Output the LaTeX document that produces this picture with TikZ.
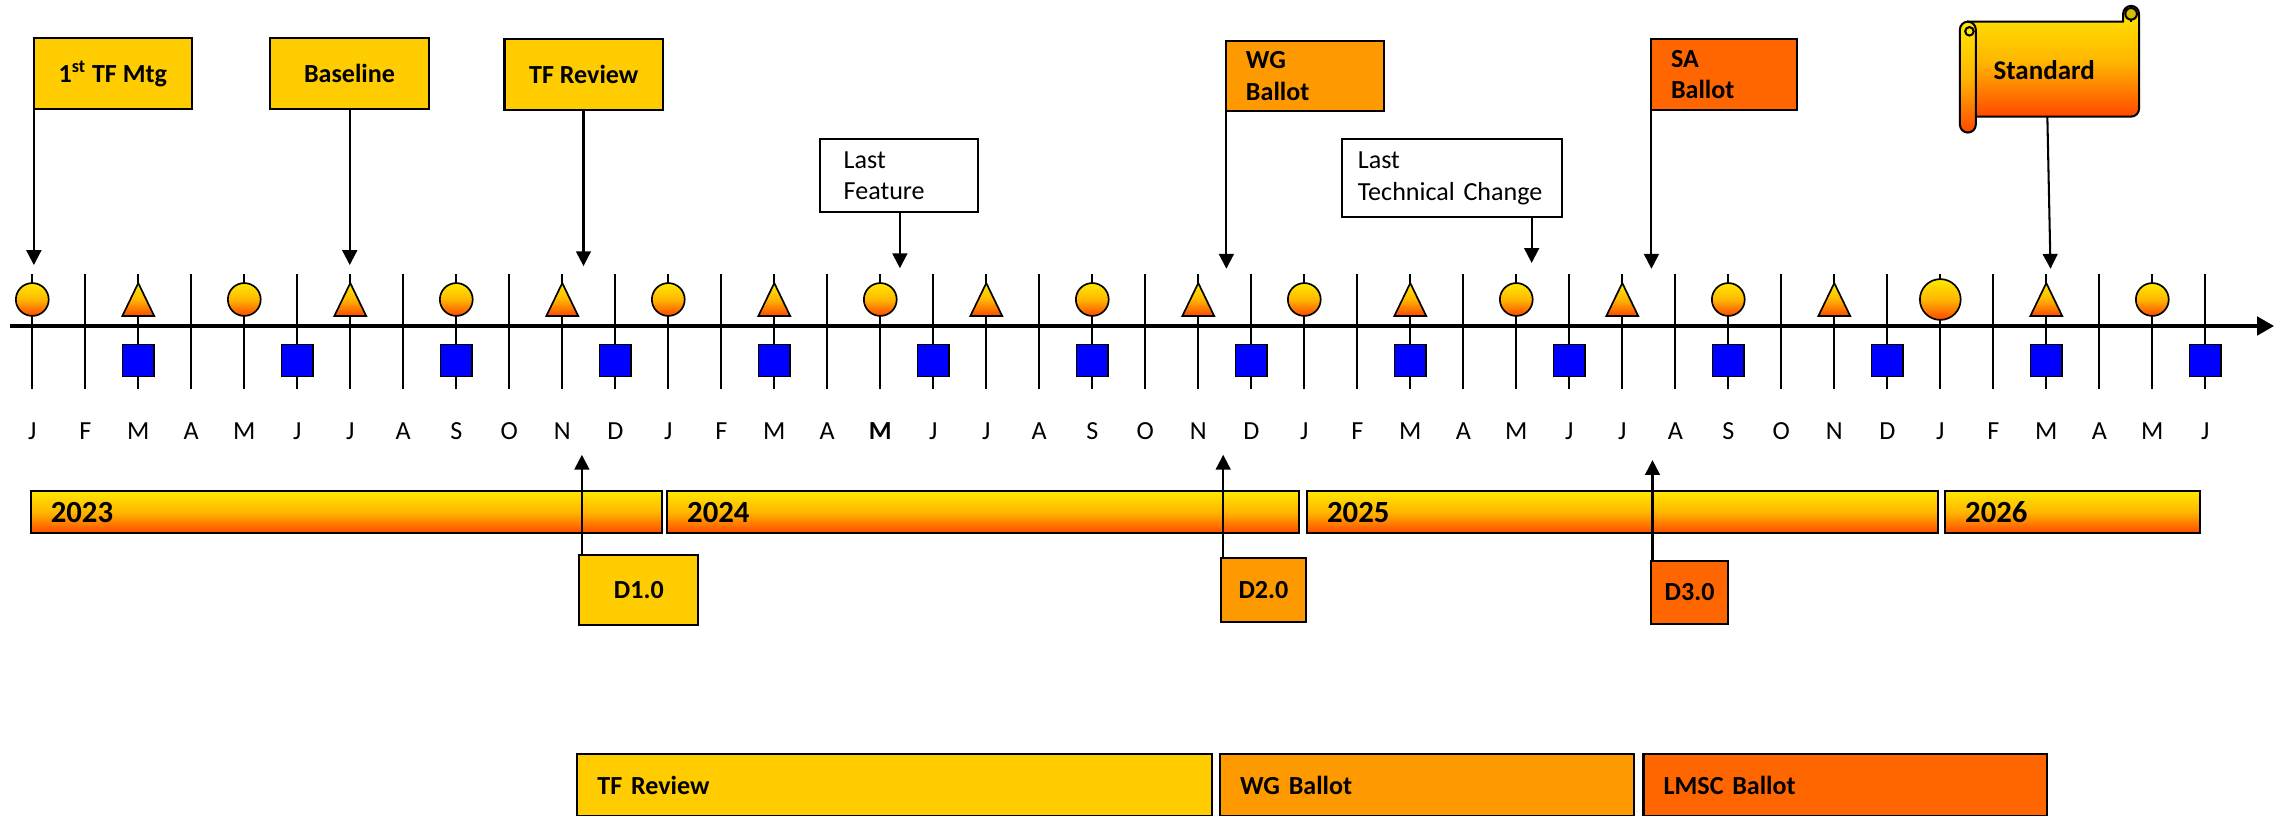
\documentclass[tikz,border=0pt]{standalone}
\usepackage{fontspec}
\setmainfont{Carlito}
\usepackage{tikz}
\usetikzlibrary{arrows.meta}
\definecolor{gold}{RGB}{255,204,0}
\definecolor{amber}{RGB}{255,153,0}
\definecolor{flame}{RGB}{255,102,0}
\definecolor{gradtop}{RGB}{255,232,0}
\definecolor{gradmid}{RGB}{255,182,0}
\definecolor{gradbot}{RGB}{255,72,0}
\definecolor{curl}{RGB}{214,190,0}
\newcommand{\boxfont}{\fontsize{14}{17}\selectfont}
\tikzstyle{glow}=[top color=gradtop, bottom color=gradbot, middle color=gradmid]
\tikzstyle{flag}=[draw, line width=1.1pt, inner sep=0pt, minimum width=2.99cm, minimum height=1.33cm, font=\boxfont\bfseries]
\tikzstyle{note}=[flag, fill=white, font=\boxfont, align=left, inner xsep=0.45cm]
\tikzstyle{yearbar}=[draw, line width=1.1pt, glow, minimum height=0.8cm, inner ysep=0pt, inner xsep=0.38cm, align=left, font=\fontsize{16.5}{18}\selectfont\bfseries]
\tikzstyle{phase}=[draw, line width=1.1pt, minimum height=1.17cm, inner ysep=0pt, inner xsep=0.38cm, align=left, font=\boxfont\bfseries]
\tikzstyle{ball}=[circle, draw, line width=0.9pt, glow, inner sep=0pt, minimum size=0.62cm]
\tikzstyle{cube}=[rectangle, draw, line width=0.9pt, fill=blue, inner sep=0pt, minimum size=0.6cm]
\tikzstyle{month}=[font=\boxfont, anchor=base, inner sep=0pt]
\tikzstyle{pointer}=[line width=1.1pt, -{Triangle[length=0.28cm,width=0.28cm]}]
\newcommand{\flag}{\node[flag]}
\newcommand{\yearbar}{\node[yearbar]}

\begin{document}
\begin{tikzpicture}
	\useasboundingbox (-0.609,-9.245) rectangle (42.372,6.151);
	%% one tick and one letter per month, Jan 2023 is at x=0
	\foreach \l [count=\i from 0] in {J,F,M,A,M,J,J,A,S,O,N,D,J,F,M,A,{\bfseries M},J,J,A,S,O,N,D,J,F,M,A,M,J,J,A,S,O,N,D,J,F,M,A,M,J}
	{
		\draw[line width=0.9pt] (\i,0.98) -- (\i,-1.19);
		\node[month] (lbl\i) at (\i,-2.14) {\l};
	}
	\coordinate (axis-start) at (-0.42,0);
	\coordinate (axis-end) at (42.30,0);
	\draw[line width=2.5pt, -{Triangle[length=0.32cm,width=0.34cm]}] (axis-start) -- (axis-end);

	%% meeting marks above and below the line
	\foreach \m in {0,4,...,32,40} \node[ball] (ball\m) at (\m,0.5) {};
	\node[ball, minimum size=0.77cm] (ball36) at (36,0.5) {};
	\foreach \m in {2,6,...,38} \draw[glow, line width=0.9pt] (\m-0.3,0.19) -- (\m+0.3,0.19) -- (\m,0.81) -- cycle;
	\foreach \m in {2,5,...,41} \node[cube] (cube\m) at (\m,-0.65) {};

	%% milestones on top
	\flag (tfmtg) at (1.52,4.76) [fill=gold] {1\textsuperscript{st} TF Mtg};
	\flag (baseline) at (5.985,4.76) [fill=gold] {Baseline};
	\flag (tfrev) at (10.405,4.745) [fill=gold] {TF Review};
	\flag (wgbal) at (24.01,4.717) [fill=amber, minimum width=2.98cm, align=left, text width=2.22cm, inner xsep=0.38cm] {WG\\Ballot};
	\flag (sabal) at (31.92,4.745) [fill=flame, minimum width=2.755cm, align=left, text width=2.0cm, inner xsep=0.38cm] {SA\\Ballot};
	\node[note] (lastfeat) at (16.35,2.834) [minimum width=2.98cm, minimum height=1.38cm, text width=2.08cm] {Last\\Feature};
	\node[note] (lasttech) at (26.785,2.79) [minimum width=4.15cm, minimum height=1.47cm, text width=3.55cm, inner xsep=0.3cm] {Last\\Technical Change};

	%% the scroll for the standard
	\draw[glow, line width=1.1pt] (36.52,3.951) -- (36.52,5.742) -- (39.45,5.742) -- (39.45,5.89) arc[start angle=180,end angle=0,radius=0.15] -- (39.75,4.101) arc[start angle=0,end angle=-90,radius=0.15] -- cycle;
	\draw[fill=curl, line width=1.1pt] (39.6,5.89) circle (0.11);
	\draw[line width=1.1pt] (39.6,5.78) -- (39.6,5.742);
	\draw[glow, line width=1.1pt] (36.37,3.80) -- (36.37,5.592) arc[start angle=180,end angle=0,radius=0.15] -- (36.67,3.80) arc[start angle=0,end angle=-180,radius=0.15] -- cycle;
	\draw[fill=gradtop, line width=1.1pt] (36.55,5.56) circle (0.08);
	\node[font=\fontsize{14.5}{17}\selectfont\bfseries] (std) at (37.96,4.83) {Standard};

	%% years
	\yearbar (y2023) at (5.925,-3.51) [minimum width=11.91cm, text width=11.15cm] {2023};
	\yearbar (y2024) at (17.94,-3.51) [minimum width=11.925cm, text width=11.165cm] {2024};
	\yearbar (y2025) at (30.005,-3.51) [minimum width=11.91cm, text width=11.15cm] {2025};
	\yearbar (y2026) at (38.495,-3.51) [minimum width=4.81cm, text width=4.05cm] {2026};

	%% drafts
	\flag (d1) at (11.445,-4.978) [fill=gold, minimum width=2.245cm, minimum height=1.327cm] {D1.0};
	\flag (d2) at (23.23,-4.987) [fill=amber, minimum width=1.604cm, minimum height=1.208cm] {D2.0};
	\flag (d3) at (31.27,-5.028) [fill=flame, minimum width=1.46cm, minimum height=1.2cm] {D3.0};

	%% phases along the bottom
	\node[phase, fill=gold] (ph-tf) at (16.267,-8.66) [minimum width=11.967cm, text width=11.207cm] {TF Review};
	\node[phase, fill=amber] (ph-wg) at (26.315,-8.66) [minimum width=7.81cm, text width=7.05cm] {WG Ballot};
	\node[phase, fill=flame] (ph-lmsc) at (34.205,-8.66) [minimum width=7.61cm, text width=6.85cm] {LMSC Ballot};

	\coordinate (tfmtg-tip) at (0.03,1.15);
	\coordinate (base-tip) at (5.99,1.15);
	\coordinate (tfrev-tip) at (10.40,1.13);
	\coordinate (feat-tip) at (16.37,1.09);
	\coordinate (wg-tip) at (22.53,1.08);
	\coordinate (tech-tip) at (28.29,1.19);
	\coordinate (sa-tip) at (30.55,1.08);
	\coordinate (std-foot) at (38.02,3.951);
	\coordinate (std-tip) at (38.08,1.08);
	\coordinate (d1-tip) at (10.37,-2.43);
	\coordinate (d2-tip) at (22.47,-2.43);
	\coordinate (d3-tip) at (30.57,-2.53);
	\path[pointer]
		(tfmtg.south -| tfmtg-tip) edge (tfmtg-tip)
		(baseline.south -| base-tip) edge (base-tip)
		(tfrev.south -| tfrev-tip) edge (tfrev-tip)
		(lastfeat.south -| feat-tip) edge (feat-tip)
		(wgbal.south -| wg-tip) edge (wg-tip)
		(lasttech.south -| tech-tip) edge (tech-tip)
		(sabal.south -| sa-tip) edge (sa-tip)
		(std-foot) edge (std-tip)
		(d1.north -| d1-tip) edge (d1-tip)
		(d2.north -| d2-tip) edge (d2-tip)
		(d3.north -| d3-tip) edge (d3-tip)
	;   % up and down arrows to the dates
\end{tikzpicture}
\end{document}
